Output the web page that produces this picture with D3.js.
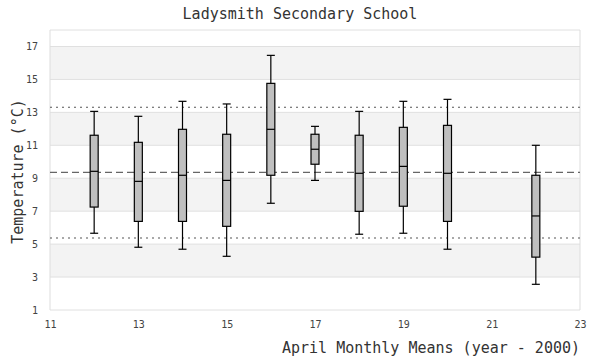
<!DOCTYPE html>
<html><head><meta charset="utf-8">
<script src="https://cdn.jsdelivr.net/npm/d3@7"></script>
<style>body{margin:0;background:#fff}svg{display:block}</style>
</head><body><svg id="c" width="600" height="360"></svg>
<script>
const years = [12, 13, 14, 15, 16, 17, 18, 19, 20, 22];
const whiskerHigh = [13.06, 12.76, 13.67, 13.51, 16.46, 12.15, 13.06, 13.67, 13.79, 11.00];
const q3 = [11.61, 11.18, 11.97, 11.67, 14.76, 11.67, 11.61, 12.09, 12.21, 9.18];
const median = [9.42, 8.81, 9.18, 8.87, 11.97, 10.76, 9.30, 9.72, 9.30, 6.71];
const q1 = [7.25, 6.38, 6.38, 6.08, 9.18, 9.85, 6.99, 7.30, 6.38, 4.21];
const whiskerLow = [5.66, 4.81, 4.69, 4.26, 7.48, 8.87, 5.60, 5.66, 4.69, 2.56];
const overallMean = 9.35;
const upperLimit = 13.31;
const lowerLimit = 5.37;
const xTicks = [11, 13, 15, 17, 19, 21, 23];
const yTicks = [1, 3, 5, 7, 9, 11, 13, 15, 17];

const svg = d3.select("#c");
const L = 50, R = 580, T = 30, B = 310;
const x = d3.scaleLinear().domain([11, 23]).range([L, R]);
const y = d3.scaleLinear().domain([1, 18]).range([B, T]);
const font = "'DejaVu Sans Mono', 'Liberation Mono', monospace";

// bands
const bandStarts = [15, 11, 7, 3];
svg.selectAll("rect.band").data(bandStarts).enter().append("rect")
  .attr("x", L).attr("width", R - L)
  .attr("y", d => y(d + 2)).attr("height", d => y(d) - y(d + 2))
  .attr("fill", "#f3f3f3");

// gridlines
svg.selectAll("line.grid").data(yTicks.concat([18])).enter().append("line")
  .attr("x1", L).attr("x2", R).attr("y1", d => y(d)).attr("y2", d => y(d))
  .attr("stroke", "#e0e0e0").attr("stroke-width", 1);
svg.append("line").attr("x1", L).attr("x2", L).attr("y1", T).attr("y2", B).attr("stroke", "#ddd");
svg.append("line").attr("x1", R).attr("x2", R).attr("y1", T).attr("y2", B).attr("stroke", "#ddd");

// axes
const yAxis = d3.axisLeft(y).tickValues(yTicks).tickSize(0).tickPadding(12);
const gy = svg.append("g").attr("transform", `translate(${L},0)`).call(yAxis);
gy.select(".domain").remove();
gy.selectAll("text").attr("font-family", font).attr("font-size", 10).attr("fill", "#444");

const xAxis = d3.axisBottom(x).tickValues(xTicks).tickSize(0).tickPadding(11);
const gx = svg.append("g").attr("transform", `translate(0,${B})`).call(xAxis);
gx.select(".domain").remove();
gx.selectAll("text").attr("font-family", font).attr("font-size", 10).attr("fill", "#444");

// reference lines
[upperLimit, lowerLimit].forEach(v => {
  svg.append("line").attr("x1", L).attr("x2", R).attr("y1", y(v)).attr("y2", y(v))
    .attr("stroke", "#555").attr("stroke-width", 1.2).attr("stroke-dasharray", "2,4");
});
svg.append("line").attr("x1", L).attr("x2", R).attr("y1", y(overallMean)).attr("y2", y(overallMean))
  .attr("stroke", "#666").attr("stroke-width", 1.2).attr("stroke-dasharray", "7,4");

// boxes
const data = years.map((yr, i) => ({yr, hi: whiskerHigh[i], q3: q3[i], med: median[i], q1: q1[i], lo: whiskerLow[i]}));
const bw = 8;
const g = svg.selectAll("g.box").data(data).enter().append("g");
g.append("line").attr("x1", d => x(d.yr)).attr("x2", d => x(d.yr))
  .attr("y1", d => y(d.hi)).attr("y2", d => y(d.lo)).attr("stroke", "#000").attr("stroke-width", 1.2);
g.append("line").attr("x1", d => x(d.yr) - bw / 2).attr("x2", d => x(d.yr) + bw / 2)
  .attr("y1", d => y(d.hi)).attr("y2", d => y(d.hi)).attr("stroke", "#000").attr("stroke-width", 1.2);
g.append("line").attr("x1", d => x(d.yr) - bw / 2).attr("x2", d => x(d.yr) + bw / 2)
  .attr("y1", d => y(d.lo)).attr("y2", d => y(d.lo)).attr("stroke", "#000").attr("stroke-width", 1.2);
g.append("rect").attr("x", d => x(d.yr) - bw / 2).attr("width", bw)
  .attr("y", d => y(d.q3)).attr("height", d => y(d.q1) - y(d.q3))
  .attr("fill", "#bfbfbf").attr("stroke", "#000").attr("stroke-width", 1.2);
g.append("line").attr("x1", d => x(d.yr) - bw / 2).attr("x2", d => x(d.yr) + bw / 2)
  .attr("y1", d => y(d.med)).attr("y2", d => y(d.med)).attr("stroke", "#000").attr("stroke-width", 1.2);

// titles
svg.append("text").attr("x", 300).attr("y", 19).attr("text-anchor", "middle")
  .attr("font-family", font).attr("font-size", 15).attr("fill", "#333").text("Ladysmith Secondary School");
svg.append("text").attr("x", 580).attr("y", 353).attr("text-anchor", "end")
  .attr("font-family", font).attr("font-size", 15).attr("fill", "#333").text("April Monthly Means (year - 2000)");
svg.append("text").attr("transform", `translate(23,${(101+242)/2}) rotate(-90)`).attr("text-anchor", "middle")
  .attr("font-family", font).attr("font-size", 15).attr("fill", "#333").text("Temperature (°C)");
</script></body></html>
